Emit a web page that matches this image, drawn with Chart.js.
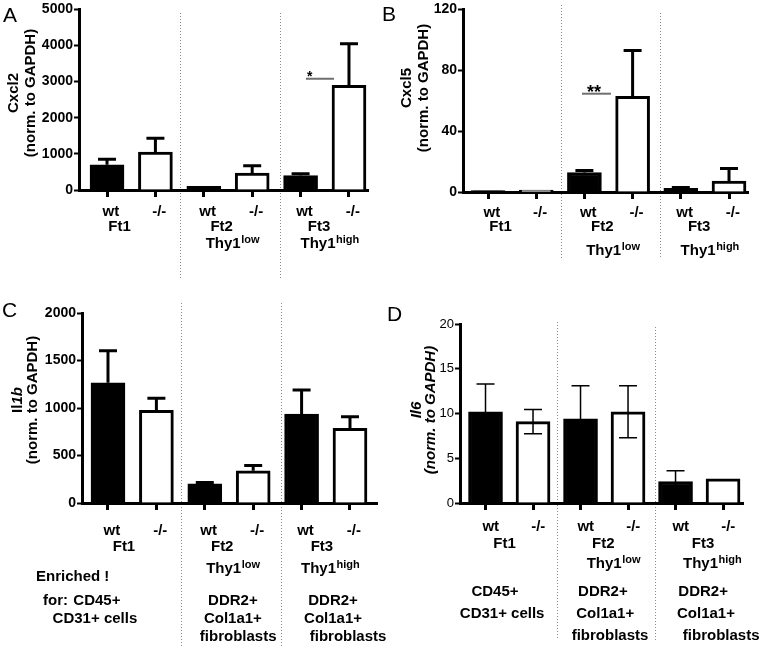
<!DOCTYPE html>
<html>
<head>
<meta charset="utf-8">
<script src="https://cdn.jsdelivr.net/npm/chart.js@4.4.1/dist/chart.umd.min.js"></script>
<style>
    body { margin: 0; background: #fff; }
    #wrap { position: relative; width: 762px; height: 648px; overflow: hidden; background: #fff; }
    #wrap canvas { position: absolute; left: 0; top: 0; }
</style>
</head>
<body>
<div id="wrap">
    <canvas id="chartA" width="762" height="648"></canvas>
    <canvas id="chartB" width="762" height="648"></canvas>
    <canvas id="chartC" width="762" height="648"></canvas>
    <canvas id="chartD" width="762" height="648"></canvas>
</div>
<script>
// categories on the x axis (two bars per sorted fraction)
const genotypes = ['wt', '-/-', 'wt', '-/-', 'wt', '-/-'];
const fractions = ['Ft1', 'Ft2', 'Ft3'];
const thyLevels = ['', 'low', 'high'];
const enrichedFor = [
    ['CD45+', 'CD31+ cells'],
    ['DDR2+', 'Col1a1+', 'fibroblasts'],
    ['DDR2+', 'Col1a1+', 'fibroblasts']
];

// panel A - Cxcl2
const cxcl2Mean = [700, 1050, 100, 470, 400, 2900];
const cxcl2Sem = [150, 380, 0, 200, 50, 1150];
const cxcl2Ticks = [0, 1000, 2000, 3000, 4000, 5000];

// panel B - Cxcl5
const cxcl5Mean = [0.9, 1.2, 12.8, 62.8, 2.4, 7.2];
const cxcl5Sem = [0, 0, 1.4, 30.2, 0.6, 8.3];
const cxcl5Ticks = [0, 40, 80, 120];

// panel C - Il1b
const il1bMean = [1266, 975, 203, 339, 937, 787];
const il1bSem = [336, 127, 12, 56, 253, 122];
const il1bTicks = [0, 500, 1000, 1500, 2000];

// panel D - Il6
const il6Mean = [10.2, 9.1, 9.4, 10.2, 2.4, 2.7];
const il6Sem = [3.1, 1.35, 3.7, 2.9, 1.2, 0];
const il6Ticks = [0, 5, 10, 15, 20];

// significance marks: [from bar, to bar, value, stars]
const sigA = [4.11, 4.69, 3080, '*'];
const sigB = [1.95, 2.55, 64.6, '**'];

const FONT = '"Liberation Sans", Arial, Helvetica, sans-serif';
const Y_W = 40, X_H = 12;
Chart.defaults.font.family = FONT;

// where the dotted dividers sit between the fractions
const dividers = [1.51, 3.57];

function textAt(ctx, str, x, y, font, align) {
    ctx.font = font;
    ctx.textAlign = align || 'center';
    ctx.textBaseline = 'middle';
    ctx.fillText(str, x, y);
}

// "Thy1" + superscript, centred on x
function supText(ctx, base, sup, x, y) {
    ctx.font = `bold 15px ${FONT}`;
    const w1 = ctx.measureText(base).width;
    ctx.font = `bold 11px ${FONT}`;
    const w2 = ctx.measureText(sup).width;
    const left = x - (w1 + w2) / 2;
    textAt(ctx, base, left, y, `bold 15px ${FONT}`, 'left');
    textAt(ctx, sup, left + w1 + 0.5, y - 4, `bold 11px ${FONT}`, 'left');
}

// rotated title made of styled pieces
function yTitle(ctx, pieces, x, y) {
    ctx.save();
    ctx.translate(x, y);
    ctx.rotate(-Math.PI / 2);
    let total = 0;
    pieces.forEach(p => { ctx.font = `${p[1]} 15px ${FONT}`; total += ctx.measureText(p[0]).width; });
    let cx = -total / 2;
    pieces.forEach(p => {
        textAt(ctx, p[0], cx, 0, `${p[1]} 15px ${FONT}`, 'left');
        ctx.font = `${p[1]} 15px ${FONT}`;
        cx += ctx.measureText(p[0]).width;
    });
    ctx.restore();
}

function decoPlugin(p) {
    return {
        id: 'deco' + p.letter,
        beforeDraw(chart) {
            const ctx = chart.ctx, xs = chart.scales.x;
            ctx.save();
            ctx.strokeStyle = '#8a8a8a';
            ctx.lineWidth = 1;
            ctx.setLineDash([1, 2]);
            dividers.forEach((d, i) => {
                const x = Math.round(xs.getPixelForValue(d)) + 0.5;
                ctx.beginPath();
                ctx.moveTo(x, p.divTop[i]);
                ctx.lineTo(x, p.divBottom);
                ctx.stroke();
            });
            ctx.restore();
        },
        afterDatasetsDraw(chart) {
            const ctx = chart.ctx, xs = chart.scales.x, ys = chart.scales.y;
            ctx.save();
            ctx.strokeStyle = '#000';
            ctx.lineWidth = p.errWidth;
            p.mean.forEach((m, i) => {
                const s = p.sem[i];
                if (!s) return;
                const x = xs.getPixelForValue(i);
                const yTop = ys.getPixelForValue(m + s);
                const yLow = ys.getPixelForValue(p.both ? m - s : m);
                ctx.beginPath();
                ctx.moveTo(x, yLow);
                ctx.lineTo(x, yTop);
                ctx.moveTo(x - 9, yTop);
                ctx.lineTo(x + 9, yTop);
                if (p.both) {
                    ctx.moveTo(x - 9, yLow);
                    ctx.lineTo(x + 9, yLow);
                }
                ctx.stroke();
            });
            if (p.sig) {
                const [a, b, v, stars] = p.sig;
                const y = ys.getPixelForValue(v);
                ctx.strokeStyle = '#6f6f6f';
                ctx.lineWidth = 2;
                ctx.beginPath();
                ctx.moveTo(xs.getPixelForValue(a), y);
                ctx.lineTo(xs.getPixelForValue(b), y);
                ctx.stroke();
                ctx.fillStyle = '#000';
                ctx.font = `bold ${p.starSize}px ${FONT}`;
                ctx.textAlign = 'center';
                ctx.textBaseline = 'alphabetic';
                ctx.fillText(stars, xs.getPixelForValue(p.starX), y + p.starDy);
            }
            ctx.restore();
        },
        afterDraw(chart) {
            const ctx = chart.ctx, xs = chart.scales.x;
            const base = chart.chartArea.bottom;
            ctx.save();
            ctx.fillStyle = '#000';
            textAt(ctx, p.letter, p.letterPos[0], p.letterPos[1], `21px ${FONT}`, 'left');
            yTitle(ctx, p.title[0], p.titleX[0], p.titleY);
            yTitle(ctx, p.title[1], p.titleX[1], p.titleY);

            genotypes.forEach((g, i) => {
                textAt(ctx, g, xs.getPixelForValue(i + p.genoShift), base + p.rows[0], `bold 15px ${FONT}`);
            });
            fractions.forEach((f, i) => {
                textAt(ctx, f, xs.getPixelForValue(p.fracX[i]), base + p.rows[1], `bold 15px ${FONT}`);
                if (thyLevels[i]) {
                    supText(ctx, 'Thy1', thyLevels[i], xs.getPixelForValue(p.thyX[i]), base + p.rows[2]);
                }
            });

            if (p.enriched) {
                const e = p.enriched;
                if (e.intro) {
                    textAt(ctx, 'Enriched !', e.intro[0], e.intro[1], `bold 15px ${FONT}`, 'left');
                    textAt(ctx, 'for:', e.intro[2], e.lineY[0], `bold 15px ${FONT}`, 'left');
                }
                enrichedFor.forEach((lines, c) => {
                    lines.forEach((t, k) => {
                        textAt(ctx, t, xs.getPixelForValue(e.colX[c][k]), e.lineY[k], `bold 15px ${FONT}`);
                    });
                });
            }
            ctx.restore();
        }
    };
}

function makePanel(p) {
    const a = p.area;
    const points = p.mean.map((v, i) => ({ x: i, y: v }));
    return new Chart(document.getElementById(p.id), {
        type: 'bar',
        data: {
            datasets: [{
                data: points,
                backgroundColor: genotypes.map(g => g === 'wt' ? '#000' : '#fff'),
                borderColor: '#000',
                borderWidth: 3,
                borderSkipped: 'start',
                barThickness: 34
            }]
        },
        options: {
            responsive: false,
            animation: false,
            devicePixelRatio: 1,
            layout: {
                padding: { left: a.left - Y_W, top: a.top, right: 762 - a.right, bottom: 648 - a.bottom - X_H }
            },
            plugins: { legend: { display: false }, tooltip: { enabled: false } },
            scales: {
                x: {
                    type: 'linear',
                    min: p.xMin,
                    max: p.xMax,
                    offset: false,
                    afterBuildTicks: s => { s.ticks = genotypes.map((g, i) => ({ value: i })); },
                    afterFit: s => { s.height = X_H; },
                    ticks: { display: false },
                    grid: { offset: false, drawOnChartArea: false, tickLength: 7, tickWidth: 3, tickColor: '#000' },
                    border: { color: '#000', width: 3 }
                },
                y: {
                    min: 0,
                    max: p.ticks[p.ticks.length - 1],
                    afterBuildTicks: s => { s.ticks = p.ticks.map(v => ({ value: v })); },
                    afterFit: s => { s.width = Y_W; },
                    ticks: {
                        color: '#000', padding: 1,
                        font: { size: p.tickSize, weight: p.tickWeight },
                        callback: v => String(v)
                    },
                    grid: { drawOnChartArea: false, tickLength: 5, tickWidth: 2, tickColor: '#000' },
                    border: { color: '#000', width: 3 }
                }
            }
        },
        plugins: [decoPlugin(p)]
    });
}

makePanel({
    id: 'chartA', letter: 'A', letterPos: [3, 16],
    mean: cxcl2Mean, sem: cxcl2Sem, ticks: cxcl2Ticks, tickWeight: 'bold', tickSize: 14,
    area: { left: 79, right: 368, top: 9, bottom: 190 }, xMin: -0.579, xMax: 5.393,
    errWidth: 3, both: false,
    sig: sigA, starX: 4.19, starSize: 14, starDy: 2,
    title: [[['Cxcl2', 'bold']], [['(norm. to GAPDH)', 'bold']]], titleX: [14, 31], titleY: 93,
    divTop: [13, 13], divBottom: 280,
    rows: [22, 37, 54], genoShift: 0.08, fracX: [0.26, 2.37, 4.38], thyX: [0, 2.59, 4.6]
});

makePanel({
    id: 'chartB', letter: 'B', letterPos: [382, 15],
    mean: cxcl5Mean, sem: cxcl5Sem, ticks: cxcl5Ticks, tickWeight: 'bold', tickSize: 14,
    area: { left: 463, right: 748, top: 8, bottom: 192 }, xMin: -0.519, xMax: 5.394,
    errWidth: 3, both: false,
    sig: sigB, starX: 2.2, starSize: 18, starDy: 4,
    title: [[['Cxcl5', 'bold']], [['(norm. to GAPDH)', 'bold']]], titleX: [407, 424], titleY: 88,
    divTop: [5, 13], divBottom: 258,
    rows: [21, 35, 59], genoShift: 0.08, fracX: [0.26, 2.37, 4.38], thyX: [0, 2.59, 4.6]
});

makePanel({
    id: 'chartC', letter: 'C', letterPos: [2, 311],
    mean: il1bMean, sem: il1bSem, ticks: il1bTicks, tickWeight: 'bold', tickSize: 14,
    area: { left: 82, right: 377, top: 313, bottom: 503 }, xMin: -0.537, xMax: 5.558,
    errWidth: 3, both: false,
    title: [[['Il', 'bold'], ['1b', 'italic bold']], [['(norm. to GAPDH)', 'bold']]], titleX: [18, 33], titleY: 400,
    divTop: [303, 303], divBottom: 648,
    rows: [28, 44, 66], genoShift: 0.08, fracX: [0.33, 2.36, 4.42], thyX: [0, 2.58, 4.59],
    enriched: {
        intro: [36, 577, 43],
        lineY: [601, 619, 637],
        colX: [[-0.23, -0.27], [2.58, 2.58, 2.69], [4.65, 4.65, 4.96]]
    }
});

makePanel({
    id: 'chartD', letter: 'D', letterPos: [387, 315],
    mean: il6Mean, sem: il6Sem, ticks: il6Ticks, tickWeight: 'normal', tickSize: 13,
    area: { left: 460, right: 743, top: 324, bottom: 503 }, xMin: -0.537, xMax: 5.42,
    errWidth: 1.5, both: true,
    title: [[['Il6', 'italic bold']], [['(norm. to GAPDH)', 'italic bold']]], titleX: [417, 431], titleY: 410,
    divTop: [322, 327], divBottom: 640,
    rows: [24, 41, 61], genoShift: 0.11, fracX: [0.4, 2.48, 4.58], thyX: [0, 2.69, 4.77],
    enriched: {
        lineY: [592, 614, 636],
        colX: [[0.2, 0.35], [2.47, 2.52, 2.62], [4.58, 4.64, 4.96]]
    }
});
</script>
</body>
</html>
